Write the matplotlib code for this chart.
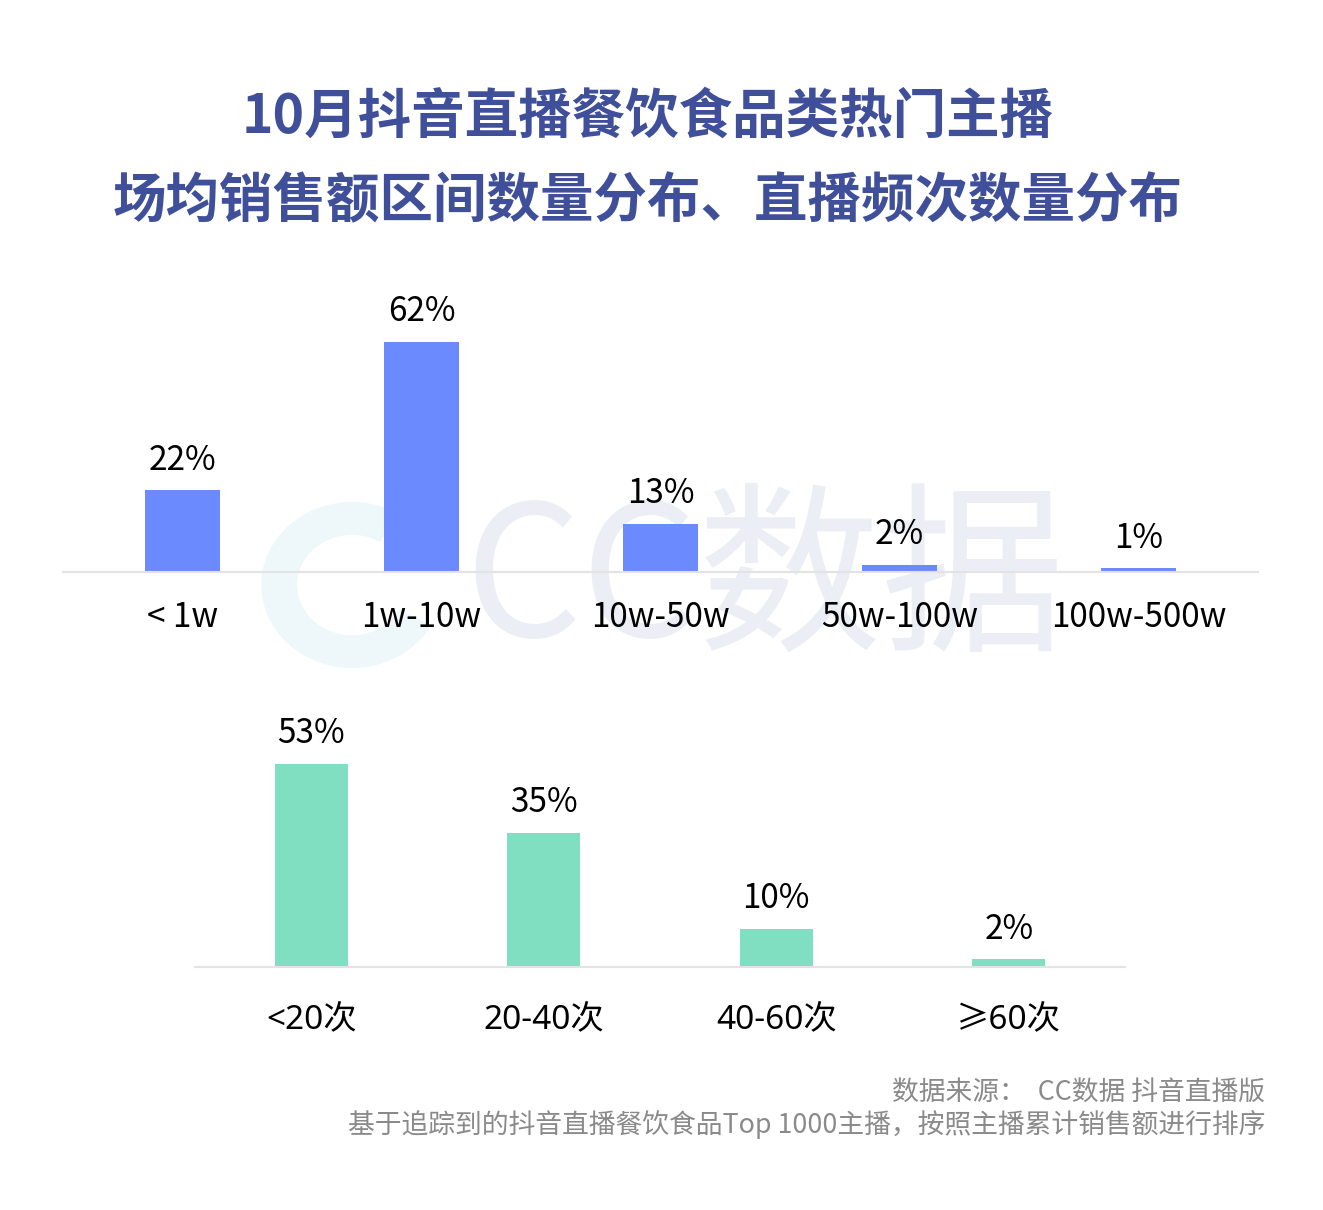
import matplotlib
matplotlib.use("Agg")
import matplotlib.pyplot as plt
from matplotlib.patches import Wedge

plt.rcParams["font.family"] = ["Noto Sans CJK SC", "DejaVu Sans"]

# data
sales_labels = ["< 1w", "1w-10w", "10w-50w", "50w-100w", "100w-500w"]
sales_values = [22, 62, 13, 2, 1]
freq_labels = ["<20次", "20-40次", "40-60次", "≥60次"]
freq_values = [53, 35, 10, 2]

TITLE_COLOR = "#3f4f9a"
BLUE = "#6b8afd"
GREEN = "#7fdfc0"

W, H = 1323, 1210
fig = plt.figure(figsize=(W / 100, H / 100), dpi=100)


def fx(px):
    return px / W


def fy(py):
    return 1 - py / H


# watermark (behind everything)
fig.text(fx(765), fy(585), "CC数据", fontsize=132, color="#eceef5",
         ha="center", va="center", zorder=-2)
wm = Wedge((fx(352), fy(585)), 0.068, 60, 330, width=0.026,
           transform=fig.transFigure, color="#eef8fb", zorder=-3)
fig.patches.append(wm)

# titles
fig.text(fx(648), fy(117), "10月抖音直播餐饮食品类热门主播", fontsize=38.5,
         fontweight="bold", color=TITLE_COLOR, ha="center", va="center")
fig.text(fx(648), fy(202), "场均销售额区间数量分布、直播频次数量分布", fontsize=38.5,
         fontweight="bold", color=TITLE_COLOR, ha="center", va="center")


def bar_panel(rect, labels, values, color, ymax, width, pad, label_family=None):
    ax = fig.add_axes(rect)
    ax.set_facecolor("none")
    x = range(len(values))
    bars = ax.bar(x, values, width, color=color, zorder=2)
    ax.set_xlim(-0.5, len(values) - 0.5)
    ax.set_ylim(0, ymax)
    for s in ("top", "left", "right"):
        ax.spines[s].set_visible(False)
    ax.spines["bottom"].set_color("#e3e3e3")
    ax.spines["bottom"].set_linewidth(1.5)
    ax.set_yticks([])
    ax.set_xticks(list(x))
    kw = {"family": label_family} if label_family else {}
    ax.set_xticklabels(labels, fontsize=24, **kw)
    ax.tick_params(axis="x", length=0, pad=pad)
    for b, v in zip(bars, values):
        ax.annotate(f"{v}%", xy=(b.get_x() + b.get_width() / 2, v),
                    xytext=(0, 9), textcoords="offset points",
                    ha="center", va="bottom", fontsize=24)
    return ax


bar_panel([fx(63), fy(572), fx(1258) - fx(63), (572 - 280) / H],
          sales_labels, sales_values, BLUE, 78.7, 0.31, 20)
bar_panel([fx(195), fy(967), fx(1125) - fx(195), (967 - 700) / H],
          freq_labels, freq_values, GREEN, 69.7, 0.315, 26,
          label_family=["Noto Sans", "Noto Sans CJK SC", "DejaVu Sans"])

# footer
fig.text(fx(1265), fy(1092), "数据来源：  CC数据 抖音直播版", fontsize=19.3,
         color="#8a8a8a", ha="right", va="center")
fig.text(fx(1265), fy(1124), "基于追踪到的抖音直播餐饮食品Top 1000主播，按照主播累计销售额进行排序",
         fontsize=19.3, color="#8a8a8a", ha="right", va="center")

fig.savefig("out.png", dpi=100, facecolor="white")
